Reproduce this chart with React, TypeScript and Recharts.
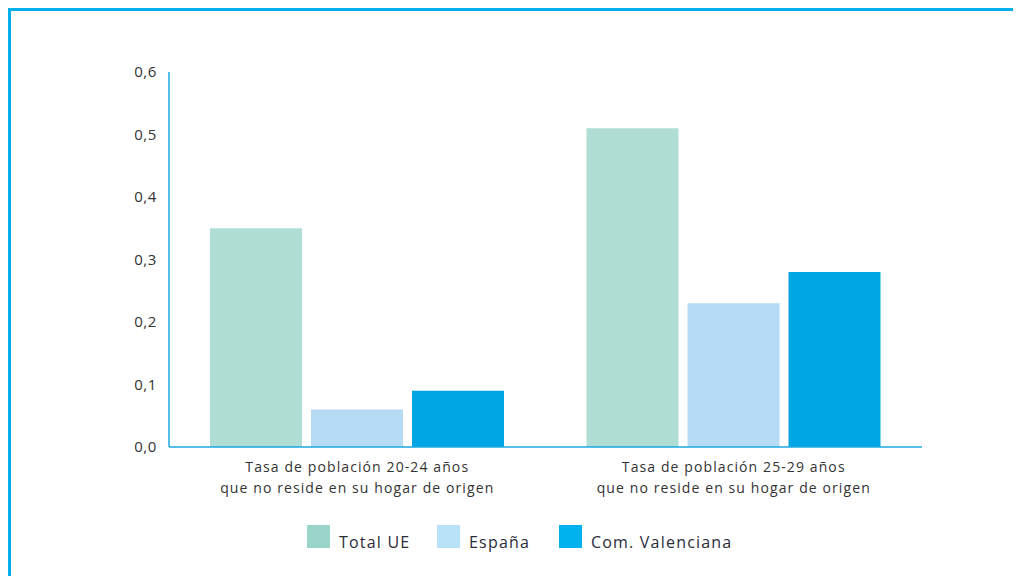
import { BarChart, Bar, XAxis, YAxis } from 'recharts';

const categories = [
  'Tasa de población 20-24 años\nque no reside en su hogar de origen',
  'Tasa de población 25-29 años\nque no reside en su hogar de origen',
];
const totalUE = [0.35, 0.51];
const espana = [0.06, 0.23];
const comValenciana = [0.09, 0.28];
const yTicks = [0, 0.1, 0.2, 0.3, 0.4, 0.5, 0.6];

const series = [
  { key: 'totalUE', name: 'Total UE', color: '#B0DED5', legendColor: '#9AD5CA', legendX: 296 },
  { key: 'espana', name: 'España', color: '#B5DCF4', legendColor: '#B8E2F8', legendX: 426 },
  { key: 'comValenciana', name: 'Com. Valenciana', color: '#00A6E2', legendColor: '#00B2EE', legendX: 548 },
];

const data = categories.map((c, i) => ({
  category: c,
  totalUE: totalUE[i],
  espana: espana[i],
  comValenciana: comValenciana[i],
}));

const FONT = '"Open Sans", Lato, sans-serif';
const AXIS_BLUE = '#1BA9E1';

function CategoryTick(props: any) {
  const { x, y, payload } = props;
  const lines = String(payload.value).split('\n');
  return (
    <g transform={`translate(${x},${y})`}>
      {lines.map((line: string, i: number) => (
        <text
          key={i}
          x={0}
          y={i * 20.5}
          dy={17}
          textAnchor="middle"
          fill="#333"
          fontSize={14}
          fontFamily={FONT}
          style={{ letterSpacing: '1.1px' }}
        >
          {line}
        </text>
      ))}
    </g>
  );
}

function LegendRow() {
  return (
    <>
      {series.map((s) => (
        <div
          key={s.key}
          style={{
            position: 'absolute',
            left: s.legendX,
            top: 514,
            display: 'flex',
            alignItems: 'center',
            fontFamily: FONT,
            fontSize: 16,
            letterSpacing: '1.2px',
            color: '#2B2B3A',
            whiteSpace: 'nowrap',
          }}
        >
          <span style={{ width: 23, height: 23, background: s.legendColor, display: 'inline-block', marginRight: 9 }} />
          <span style={{ position: 'relative', top: 5 }}>{s.name}</span>
        </div>
      ))}
    </>
  );
}

export default function App() {
  return (
    <div
      style={{
        position: 'relative',
        width: 1013,
        height: 568,
        borderTop: '3px solid #00B0EC',
        borderLeft: '3px solid #00B0EC',
        boxSizing: 'border-box',
        overflow: 'hidden',
        background: '#fff',
      }}
    >
      <BarChart
        width={1010}
        height={565}
        data={data}
        barGap={9}
        margin={{ top: 61, right: 99, left: 98, bottom: 69 }}
      >
        <XAxis
          dataKey="category"
          tick={<CategoryTick />}
          tickLine={false}
          axisLine={{ stroke: AXIS_BLUE, strokeWidth: 1.5 }}
          height={60}
          interval={0}
        />
        <YAxis
          domain={[0, 0.6]}
          ticks={yTicks}
          tickFormatter={(v: number) => v.toFixed(1).replace('.', ',')}
          tick={{ fontSize: 15, fill: '#333', fontFamily: FONT, letterSpacing: '0.6px' }}
          tickLine={false}
          tickSize={10}
          tickMargin={2}
          axisLine={{ stroke: AXIS_BLUE, strokeWidth: 1.5 }}
          width={60}
        />
        {series.map((s) => (
          <Bar key={s.key} dataKey={s.key} name={s.name} fill={s.color} barSize={92} isAnimationActive={false} />
        ))}
      </BarChart>
      <LegendRow />
    </div>
  );
}
